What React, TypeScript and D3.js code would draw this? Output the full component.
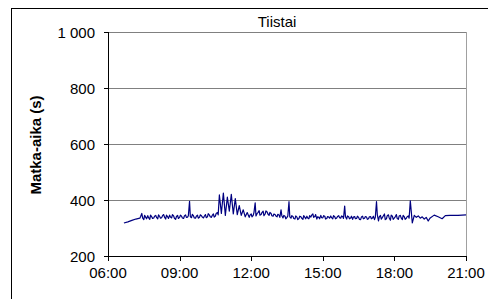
import React from "react";
import * as d3 from "d3";

const title = "Tiistai";
const yLabel = "Matka-aika (s)";
const yTicks = [200, 400, 600, 800, 1000];
const xTickHours = [6, 9, 12, 15, 18, 21];

// main samples (about every 5 minutes)
const times = [
  "06:40","06:50","07:00","07:10","07:20","07:25","07:30","07:35","07:40","07:45","07:50","07:55",
  "08:00","08:05","08:10","08:15","08:20","08:25","08:30","08:35","08:40","08:45","08:50","08:55",
  "09:00","09:05","09:10","09:15","09:20","09:25","09:30","09:35","09:40","09:45","09:50","09:55",
  "10:00","10:05","10:10","10:15","10:20","10:25","10:30","10:35","10:40","10:45","10:50","10:55",
  "11:00","11:05","11:10","11:15","11:20","11:25","11:30","11:35","11:40","11:45","11:50","11:55",
  "12:00","12:05","12:10","12:15","12:20","12:25","12:30","12:35","12:40","12:45","12:50","12:55",
  "13:00","13:05","13:10","13:15","13:20","13:25","13:30","13:35","13:40","13:45","13:50","13:55",
  "14:00","14:05","14:10","14:15","14:20","14:25","14:30","14:35","14:40","14:45","14:50","14:55",
  "15:00","15:05","15:10","15:15","15:20","15:25","15:30","15:35","15:40","15:45","15:50","15:55",
  "16:00","16:05","16:10","16:15","16:20","16:25","16:30","16:35","16:40","16:45","16:50","16:55",
  "17:00","17:05","17:10","17:15","17:20","17:25","17:30","17:35","17:40","17:45","17:50","17:55",
  "18:00","18:05","18:10","18:15","18:20","18:25","18:30","18:35","18:40","18:45","18:50","18:55",
  "19:00","19:05","19:10","19:15","19:20","19:25","19:30","19:40","19:50","20:00","20:08","20:20",
  "20:40","21:00"
];
const values = [
  318,322,327,332,335,352,330,338,344,331,340,336,
  345,333,341,337,348,332,340,346,336,343,331,345,
  338,342,334,347,339,395,337,343,335,346,338,344,
  336,348,340,346,338,350,343,355,418,352,425,345,
  410,360,420,350,405,348,380,345,365,340,355,338,
  350,345,390,352,362,348,360,350,357,345,352,342,
  348,340,346,365,336,342,338,394,335,341,332,339,
  334,340,331,338,342,333,339,350,341,332,338,345,
  336,342,334,339,343,333,340,336,344,335,341,378,
  332,340,336,331,341,334,338,330,342,335,339,333,
  341,336,330,394,325,345,338,350,333,347,328,342,
  336,348,331,345,330,340,335,343,397,318,345,338,
  343,335,340,332,338,325,336,346,340,333,344,345,
  345,347
];

// intermediate samples in the busy parts of the day
const extraTimes = [
  "07:22","07:27","07:32","07:37","07:42","07:47","07:52","07:57",
  "08:02","08:07","08:12","08:17","08:22","08:27","08:32","08:37","08:42","08:47","08:52","08:57",
  "09:02","09:07","09:12","09:17","09:22","09:27","09:32","09:37","09:42","09:47","09:52","09:57",
  "10:02","10:07","10:12","10:17","10:22","10:27","10:32","10:37",
  "11:57","12:02","12:07","12:12","12:17","12:22","12:27","12:32","12:37",
  "12:42","12:47","12:52","12:57","13:02","13:07","13:12","13:17","13:22","13:27","13:32","13:37",
  "13:42","13:47","13:52","13:57","14:02","14:07","14:12","14:17","14:22","14:27","14:32","14:37",
  "14:42","14:47","14:52","14:57","15:02","15:07","15:12","15:17","15:22","15:27","15:32","15:37",
  "15:42","15:47","15:52","15:57","16:02","16:07","16:12","16:17","16:22","16:27","16:32","16:37",
  "16:42","16:47","16:52","16:57","17:02","17:07","17:12","17:17","17:22","17:27","17:32","17:37",
  "17:42","17:47","17:52","17:57","18:02","18:07","18:12","18:17","18:22","18:27","18:32","18:37"
];
const extraValues = [
  341,336,345,333,337,346,334,342,
  338,347,335,344,339,346,334,339,348,335,341,334,
  346,336,343,338,344,340,349,336,342,335,347,339,
  342,337,351,340,345,339,352,347,
  346,340,356,343,355,346,355,344,361,
  350,356,344,350,343,349,338,344,345,333,343,340,
  344,334,343,330,342,335,344,333,336,344,346,338,
  348,340,333,337,344,332,341,335,337,344,333,341,
  337,343,334,340,343,333,342,339,333,342,331,339,
  333,341,331,340,333,342,338,348,340,332,343,330,
  344,336,346,331,340,334,343,336,345,331,340,335
];

const toHours = (t: string) => {
  const [h, m] = t.split(":").map(Number);
  return h + m / 60;
};

export default function App() {
  const left = 108, right = 466, top = 32, bottom = 256;
  const x = d3.scaleLinear().domain([6, 21]).range([left, right]);
  const y = d3.scaleLinear().domain([200, 1000]).range([bottom, top]);
  const data = times
    .map((t, i) => ({ h: toHours(t), v: values[i] }))
    .concat(extraTimes.map((t, i) => ({ h: toHours(t), v: extraValues[i] })))
    .sort((a, b) => a.h - b.h);
  const line = d3.line<{ h: number; v: number }>().x(d => x(d.h)).y(d => y(d.v));
  const font = "'Liberation Sans', Arial, sans-serif";
  const fmtY = (v: number) => (v >= 1000 ? d3.format(",")(v).replace(",", " ") : String(v));
  const fmtX = (h: number) => (h < 10 ? "0" : "") + h + ":00";

  return (
    <svg width={488} height={299} style={{ position: "absolute", left: 0, top: 0 }} fontFamily={font}>
      <rect x={0} y={0} width={488} height={299} fill="#fff" />
      <rect x={11.5} y={8.5} width={520} height={320} fill="none" stroke="#000" strokeWidth={1} />
      {yTicks.map(t => (
        <line key={"g" + t} x1={left} x2={right} y1={Math.round(y(t)) + 0.5} y2={Math.round(y(t)) + 0.5} stroke="#808080" strokeWidth={1} />
      ))}
      <line x1={right + 0.5} x2={right + 0.5} y1={top} y2={bottom} stroke="#a0a0a0" strokeWidth={1} />
      <path d={line(data) || ""} fill="none" stroke="#000080" strokeWidth={1.2} strokeLinejoin="round" />
      <line x1={left + 0.5} x2={left + 0.5} y1={top} y2={bottom + 0.5} stroke="#000" />
      <line x1={left} x2={right + 1} y1={bottom + 0.5} y2={bottom + 0.5} stroke="#000" />
      {yTicks.map(t => (
        <g key={"y" + t}>
          <line x1={left - 4} x2={left} y1={Math.round(y(t)) + 0.5} y2={Math.round(y(t)) + 0.5} stroke="#000" />
          <text x={95} y={y(t)} textAnchor="end" dominantBaseline="central" fontSize={15} fill="#000">{fmtY(t)}</text>
        </g>
      ))}
      {xTickHours.map(h => (
        <g key={"x" + h}>
          <line x1={Math.round(x(h)) + 0.5} x2={Math.round(x(h)) + 0.5} y1={bottom} y2={bottom + 5} stroke="#000" />
          <text x={x(h)} y={272} textAnchor="middle" dominantBaseline="central" fontSize={15} fill="#000">{fmtX(h)}</text>
        </g>
      ))}
      <text x={277} y={21} textAnchor="middle" dominantBaseline="central" fontSize={15} fill="#000">{title}</text>
      <text transform={`translate(35,145) rotate(-90)`} textAnchor="middle" dominantBaseline="central" fontSize={15} fontWeight="bold" fill="#000">{yLabel}</text>
    </svg>
  );
}
